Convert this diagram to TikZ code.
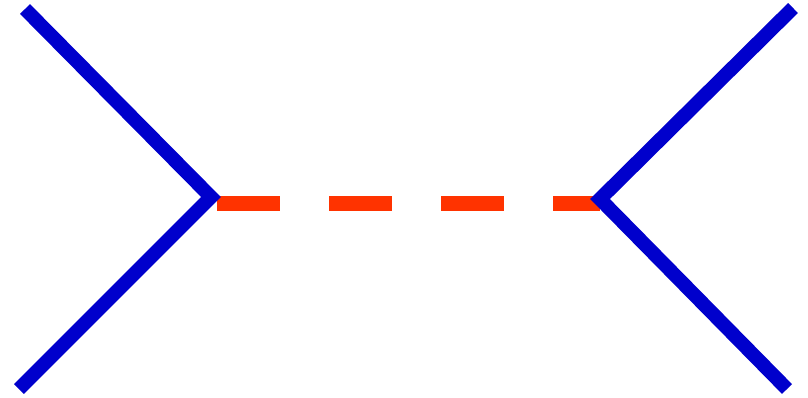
\documentclass[tikz,border=0pt]{standalone}
\definecolor{fermion}{HTML}{0000CC}
\definecolor{boson}{HTML}{FF3300}
\begin{document}
\begin{tikzpicture}[x=1pt,y=-1pt,
  fermionline/.style={draw=fermion,line width=14pt,line cap=butt,line join=miter},
  bosonline/.style={draw=boson,line width=15pt,line cap=butt,dash pattern=on 63pt off 49pt}]
\useasboundingbox (0,0) rectangle (808,397);
\coordinate (v1) at (211,197);
\coordinate (v2) at (600,199);
\coordinate (a) at (25,9);
\coordinate (b) at (19,389);
\coordinate (c) at (793,8);
\coordinate (d) at (787,389);
\coordinate (r1) at (217,203);
\coordinate (r2) at (600,203);
\draw[bosonline] (r1) -- (r2);
\draw[fermionline] (a) -- (v1) -- (b);
\draw[fermionline] (c) -- (v2) -- (d);
\end{tikzpicture}
\end{document}
